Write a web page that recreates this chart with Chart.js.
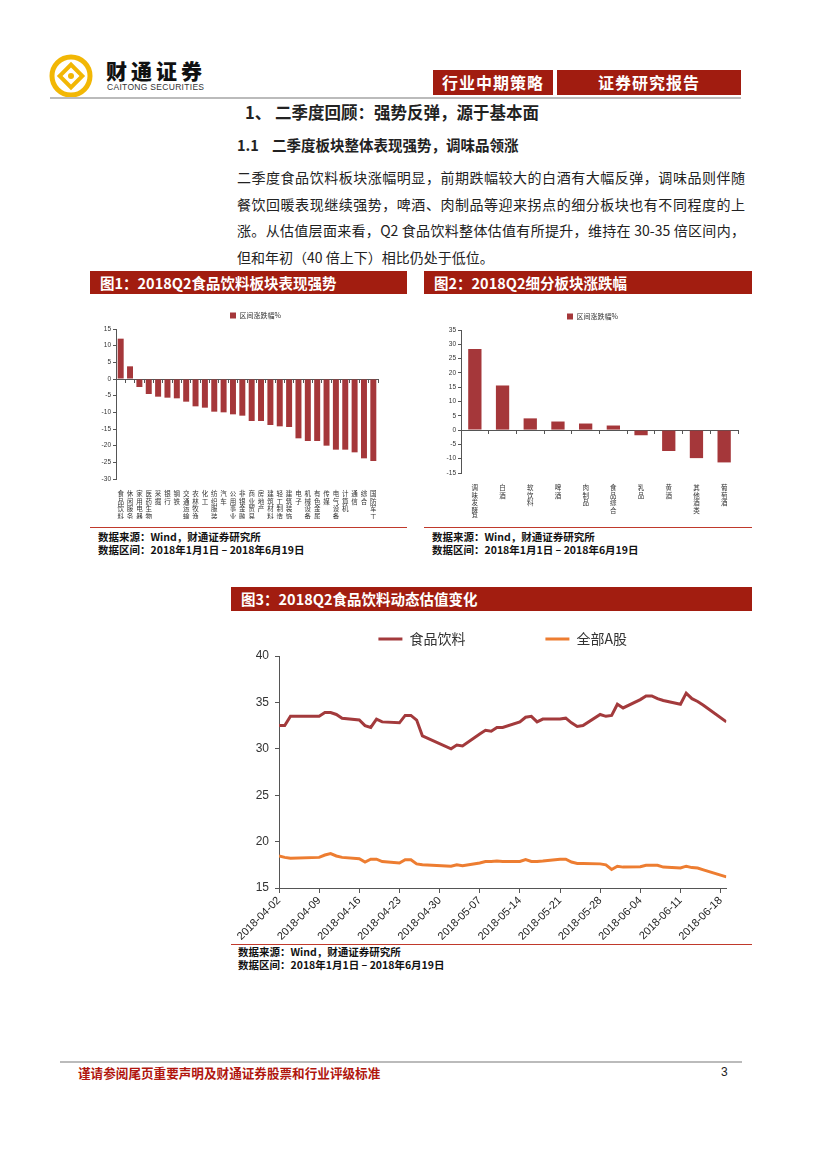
<!DOCTYPE html>
<html lang="zh-CN">
<head>
<meta charset="utf-8">
<title>财通证券 行业中期策略</title>
<script src="https://cdn.jsdelivr.net/npm/chart.js@4.4.1/dist/chart.umd.min.js"></script>
<style>
  body { margin: 0; background: #fff; }
  #page { position: relative; width: 827px; height: 1170px; overflow: hidden; font-family: "Noto Sans CJK SC", sans-serif; color: #222; }
  .abs { position: absolute; white-space: nowrap; }
  .redbox { position: absolute; background: #a11c10; color: #fff; font-weight: bold; font-size: 16px; line-height: 25px; height: 25px; text-align: center; letter-spacing: 1px; }
  .figbar { position: absolute; height: 23px; background: #a21d10; color: #fff; font-weight: bold; font-size: 14.5px; line-height: 23px; padding-left: 10px; box-sizing: border-box; white-space: nowrap; }
  .src { position: absolute; font-size: 10.5px; font-weight: bold; line-height: 13px; color: #111; white-space: nowrap; }
  .srcline { position: absolute; height: 1px; background: #c0392b; }
  .para { position: absolute; left: 237px; top: 164px; }
  .para div { width: 508px; font-size: 14px; height: 26.5px; line-height: 26.5px; white-space: nowrap; text-align: justify; text-align-last: justify; color: #222; }
  .para div.last { text-align-last: left; }
  canvas { position: absolute; }
</style>
</head>
<body>
<div id="page">
  <!-- 页眉 -->
  <svg class="abs" style="left:48px;top:53px" width="46" height="46" viewBox="0 0 46 46">
    <circle cx="23" cy="23" r="19" fill="none" stroke="#f2b705" stroke-width="5"/>
    <rect x="15" y="15" width="16" height="16" fill="none" stroke="#f2b705" stroke-width="4" transform="rotate(45 23 23)"/>
    <circle cx="23" cy="23" r="3" fill="#f2b705"/>
  </svg>
  <div class="abs" style="left:106px;top:59px;font-size:21px;line-height:22px;font-weight:900;letter-spacing:4px;color:#111">财通证券</div>
  <div class="abs" style="left:107px;top:83px;font-size:8.5px;line-height:9px;font-family:'Liberation Sans';color:#333;letter-spacing:0.3px">CAITONG SECURITIES</div>
  <div class="redbox" style="left:433px;top:70px;width:120px">行业中期策略</div>
  <div class="redbox" style="left:557px;top:70px;width:184px">证券研究报告</div>
  <div class="abs" style="left:50px;top:97px;width:691px;height:2px;background:#bbb"></div>

  <div class="abs" style="left:245px;top:101px;font-size:16.5px;font-weight:bold;line-height:22px">1、 二季度回顾：强势反弹，源于基本面</div>
  <div class="abs" style="left:237px;top:135px;font-size:14.5px;font-weight:bold;line-height:20px">1.1&nbsp;&nbsp;&nbsp; 二季度板块整体表现强势，调味品领涨</div>
  <div class="para">
    <div>二季度食品饮料板块涨幅明显，前期跌幅较大的白酒有大幅反弹，调味品则伴随</div>
    <div>餐饮回暖表现继续强势，啤酒、肉制品等迎来拐点的细分板块也有不同程度的上</div>
    <div>涨。从估值层面来看，Q2 食品饮料整体估值有所提升，维持在 30-35 倍区间内，</div>
    <div class="last">但和年初（40 倍上下）相比仍处于低位。</div>
  </div>

  <!-- 图1 / 图2 -->
  <div class="figbar" style="left:90px;top:271px;width:317px">图1：2018Q2食品饮料板块表现强势</div>
  <div class="figbar" style="left:424px;top:271px;width:328px">图2：2018Q2细分板块涨跌幅</div>
  <canvas id="chart1" width="298" height="321" style="left:86px;top:198px"></canvas>
  <canvas id="chart2" width="316" height="311" style="left:430px;top:207px"></canvas>
  <div class="srcline" style="left:90px;top:527px;width:317px"></div>
  <div class="srcline" style="left:424px;top:527px;width:328px"></div>
  <div class="src" style="left:98px;top:530px">数据来源：Wind，财通证券研究所<br>数据区间：2018年1月1日 – 2018年6月19日</div>
  <div class="src" style="left:432px;top:530px">数据来源：Wind，财通证券研究所<br>数据区间：2018年1月1日 – 2018年6月19日</div>

  <!-- 图3 -->
  <div class="figbar" style="left:231px;top:587px;width:521px;height:24px;line-height:24px">图3：2018Q2食品饮料动态估值变化</div>
  <canvas id="chart3" width="505" height="392" style="left:226px;top:552px"></canvas>
  <div class="srcline" style="left:231px;top:944px;width:521px"></div>
  <div class="src" style="left:238px;top:945px">数据来源：Wind，财通证券研究所<br>数据区间：2018年1月1日 – 2018年6月19日</div>

  <!-- 页脚 -->
  <div class="abs" style="left:60px;top:1061px;width:682px;height:2px;background:#bbb"></div>
  <div class="abs" style="left:78px;top:1064px;font-size:12.6px;font-weight:bold;color:#b0160e;line-height:17px">谨请参阅尾页重要声明及财通证券股票和行业评级标准</div>
  <div class="abs" style="left:721px;top:1064px;font-size:12px;font-family:'Liberation Sans';line-height:17px">3</div>
</div>

<script>
// 图1：申万一级行业 2018Q2 区间涨跌幅 (%)
const sectors1 = ['食品饮料', '休闲服务', '家用电器', '医药生物', '采掘', '银行', '钢铁', '交通运输',
  '农林牧渔', '化工', '纺织服装', '汽车', '公用事业', '非银金融', '商业贸易', '房地产', '建筑材料',
  '轻工制造', '建筑装饰', '电子', '机械设备', '有色金属', '传媒', '电气设备', '计算机', '通信', '综合', '国防军工'];
const change1 = [12.1, 3.8, -2.4, -4.5, -5.3, -5.6, -5.8, -6.8, -8.2, -8.6, -9.8, -10.0, -10.6, -11.0,
  -12.6, -12.6, -13.8, -14.2, -14.4, -17.8, -18.6, -18.6, -20.0, -21.2, -21.2, -22.0, -23.8, -24.6];

// 图2：食品饮料细分板块涨跌幅 (%)
const sectors2 = ['调味发酵品', '白酒', '软饮料', '啤酒', '肉制品', '食品综合', '乳品', '黄酒', '其他酒类', '葡萄酒'];
const change2 = [28.4, 15.6, 4.1, 3.0, 2.3, 1.6, -1.8, -7.3, -9.8, -11.3];

// 图3：动态市盈率，交易日
const tradeDays = ['04-02', '04-03', '04-04', '04-09', '04-10', '04-11', '04-12', '04-13',
  '04-16', '04-17', '04-18', '04-19', '04-20', '04-23', '04-24', '04-25', '04-26', '04-27',
  '05-02', '05-03', '05-04', '05-07', '05-08', '05-09', '05-10', '05-11', '05-14', '05-15',
  '05-16', '05-17', '05-18', '05-21', '05-22', '05-23', '05-24', '05-25', '05-28', '05-29',
  '05-30', '05-31', '06-01', '06-04', '06-05', '06-06', '06-07', '06-08', '06-11', '06-12',
  '06-13', '06-14', '06-15', '06-19'];
const foodPE = [32.5, 32.5, 33.5, 33.5, 33.9, 33.9, 33.7, 33.3,
  33.1, 32.5, 32.3, 33.2, 32.9, 32.8, 33.6, 33.6, 33.1, 31.4,
  30.0, 30.4, 30.3, 31.6, 32.0, 31.9, 32.3, 32.3, 32.9, 33.4,
  33.5, 32.9, 33.2, 33.2, 33.3, 32.8, 32.4, 32.5, 33.7, 33.5,
  33.6, 34.8, 34.4, 35.3, 35.7, 35.7, 35.4, 35.2, 34.8, 36.0,
  35.4, 35.1, 34.7, 32.9];
const allAPE = [18.45, 18.3, 18.2, 18.3, 18.55, 18.7, 18.45, 18.3,
  18.15, 17.8, 18.1, 18.1, 17.85, 17.7, 18.05, 18.05, 17.6, 17.5,
  17.35, 17.5, 17.4, 17.7, 17.85, 17.85, 17.9, 17.85, 17.85, 18.05,
  17.85, 17.85, 17.9, 18.1, 18.1, 17.8, 17.65, 17.65, 17.6, 17.5,
  17.0, 17.35, 17.25, 17.3, 17.45, 17.45, 17.45, 17.25, 17.15, 17.35,
  17.2, 17.15, 16.95, 16.2];
// x 轴刻度（每周一）
const tickDates = ['04-02', '04-09', '04-16', '04-23', '04-30', '05-07', '05-14', '05-21', '05-28', '06-04', '06-11', '06-18'];

const barRed = '#a5373a';
const axisColor = '#555';
const numFont = 'Liberation Sans';
const cjkFont = 'Noto Sans CJK SC';

// 日期 -> 距 04-02 的天数
const baseDay = Date.UTC(2018, 3, 2);
function dayIndex(mmdd) {
  const [m, d] = mmdd.split('-').map(Number);
  return (Date.UTC(2018, m - 1, d) - baseDay) / 86400000;
}
function dayLabel(n) {
  return new Date(baseDay + n * 86400000).toISOString().slice(0, 10);
}

// 两个柱状图共用的设置
function barChart(id, cats, values, yMin, yMax, legendPad, yWidth, xHeight, barPct, padRight) {
  return new Chart(document.getElementById(id), {
    type: 'bar',
    data: {
      labels: cats.map(s => s.split('')),
      datasets: [{
        label: '区间涨跌幅%',
        data: values,
        backgroundColor: barRed,
        barPercentage: barPct,
        categoryPercentage: 1
      }]
    },
    options: {
      responsive: false,
      animation: false,
      layout: { padding: { right: padRight } },
      plugins: {
        legend: {
          fullSize: false,
          align: 'start',
          labels: { boxWidth: 6, boxHeight: 6, padding: legendPad, color: '#333', font: { family: cjkFont, size: 7 } }
        },
        tooltip: { enabled: false }
      },
      scales: {
        x: {
          grid: { display: false },
          border: { display: false },
          ticks: { autoSkip: false, maxRotation: 0, padding: 3, color: '#333', font: { family: cjkFont, size: 6.5, lineHeight: 1.15 } },
          afterFit: s => { s.height = xHeight; }
        },
        x0: {
          axis: 'x',
          type: 'category',
          position: { y: 0 },
          ticks: { display: false },
          grid: { drawOnChartArea: false, offset: true, tickLength: 3, color: axisColor },
          border: { color: axisColor }
        },
        y: {
          min: yMin,
          max: yMax,
          ticks: { stepSize: 5, padding: 2, color: '#333', font: { family: numFont, size: 6.5 } },
          grid: { drawOnChartArea: false, tickLength: 3, color: axisColor },
          border: { color: axisColor },
          afterFit: s => { s.width = yWidth; }
        }
      }
    }
  });
}

barChart('chart1', sectors1, change1, -30, 15, 114, 30, 40, 0.64, 6);
barChart('chart2', sectors2, change2, -15, 35, 106, 31, 45, 0.48, 8);

new Chart(document.getElementById('chart3'), {
  type: 'line',
  data: {
    datasets: [
      {
        label: '食品饮料',
        data: tradeDays.map((d, i) => ({ x: dayIndex(d), y: foodPE[i] })),
        borderColor: '#a33a3c',
        backgroundColor: '#a33a3c',
        borderWidth: 3,
        pointRadius: 0,
        tension: 0
      },
      {
        label: '全部A股',
        data: tradeDays.map((d, i) => ({ x: dayIndex(d), y: allAPE[i] })),
        borderColor: '#ed7d31',
        backgroundColor: '#ed7d31',
        borderWidth: 3,
        pointRadius: 0,
        tension: 0
      }
    ]
  },
  options: {
    responsive: false,
    animation: false,
    plugins: {
      legend: {
        fullSize: false,
        labels: {
          usePointStyle: true, pointStyle: 'line', pointStyleWidth: 24,
          padding: 80, color: '#333', font: { family: cjkFont, size: 14 }
        }
      },
      tooltip: { enabled: false }
    },
    scales: {
      x: {
        type: 'linear',
        min: 0,
        max: 78,
        afterBuildTicks: axis => { axis.ticks = tickDates.map(d => ({ value: dayIndex(d) })); },
        ticks: {
          autoSkip: false, minRotation: 45, maxRotation: 45, padding: 1,
          color: '#222', font: { family: numFont, size: 11 },
          callback: v => dayLabel(v)
        },
        grid: { drawOnChartArea: false, tickLength: 5, color: axisColor },
        border: { color: axisColor },
        afterFit: s => { s.height = 56; }
      },
      y: {
        min: 15,
        max: 40,
        ticks: { stepSize: 5, padding: 6, color: '#333', font: { family: numFont, size: 12 } },
        grid: { drawOnChartArea: false, tickLength: 4, color: axisColor },
        border: { color: axisColor },
        afterFit: s => { s.width = 53; }
      }
    }
  }
});
</script>
</body>
</html>
